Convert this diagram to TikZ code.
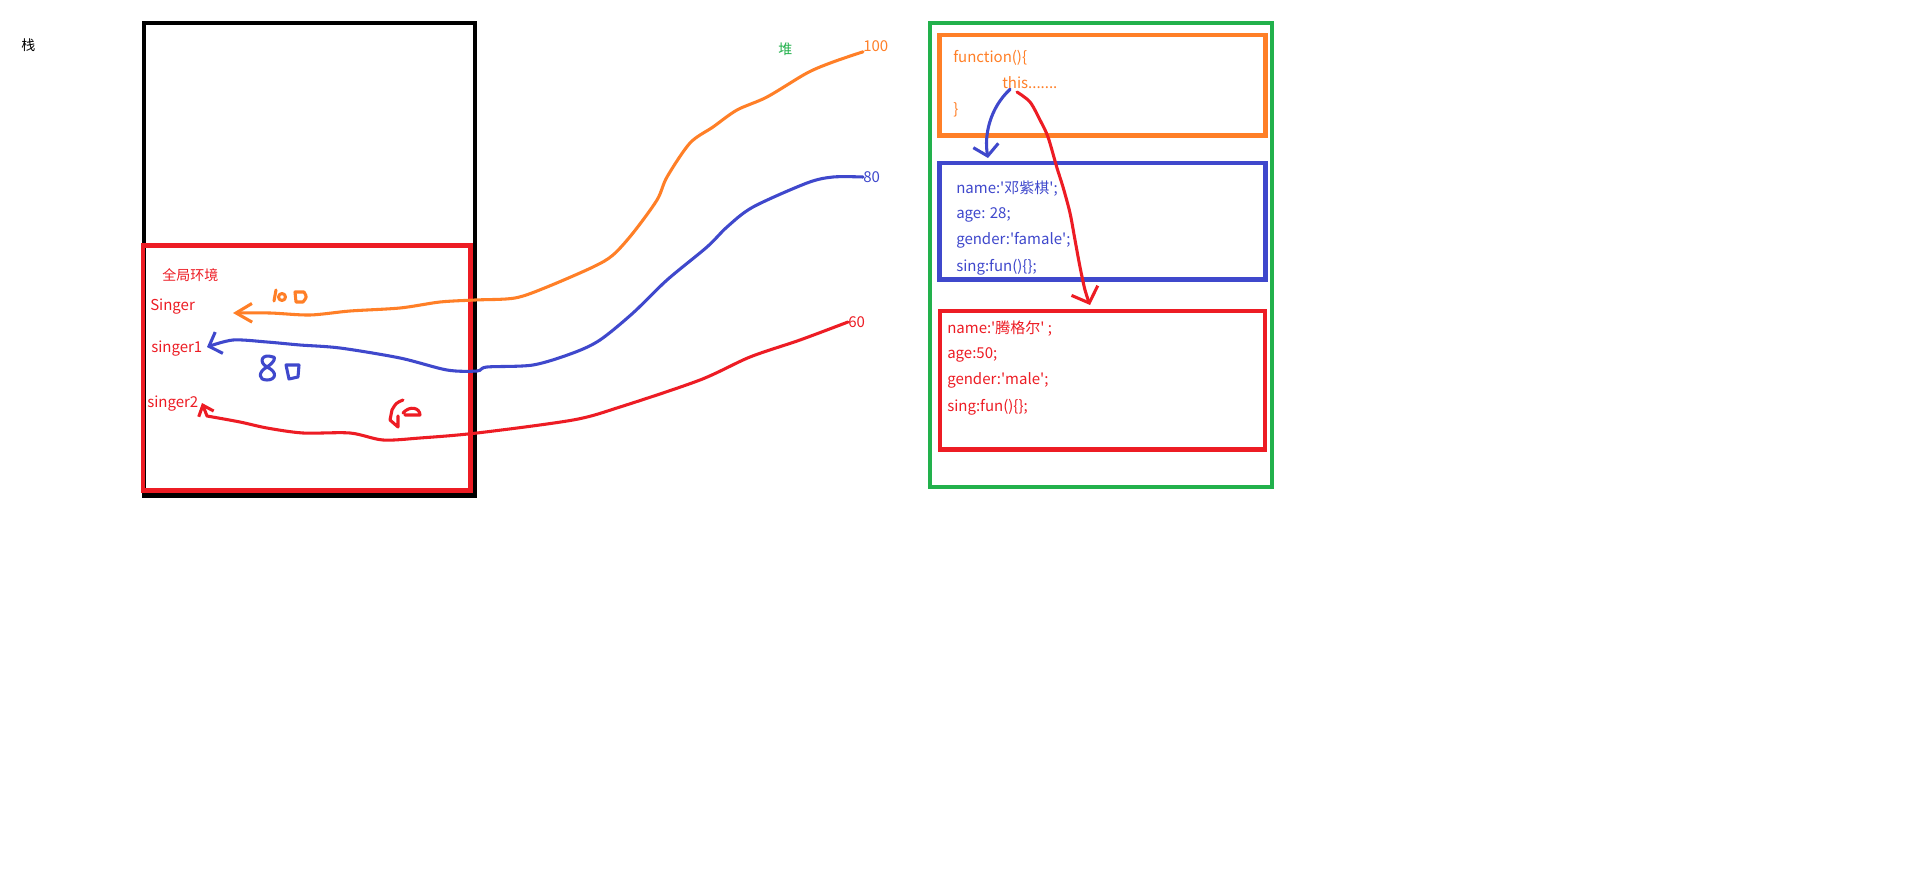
\documentclass[tikz,border=0pt]{standalone}
\usepackage{fontspec}
\newfontfamily\yahei{Noto Sans CJK SC}
\usetikzlibrary{arrows.meta}
\definecolor{pred}{HTML}{ED1C24}
\definecolor{porange}{HTML}{FF7F27}
\definecolor{pblue}{HTML}{3F48CC}
\definecolor{pgreen}{HTML}{22B14C}
\tikzset{
  frame/.style={line width=3.4pt},
  pen/.style={line width=2.3pt, line cap=round, line join=round},
  lbl/.style={anchor=west, inner sep=0pt, font=\yahei\fontsize{11.25pt}{13pt}\selectfont},
  small/.style={lbl, font=\yahei\fontsize{10.5pt}{12pt}\selectfont},
}
\begin{document}
\begin{tikzpicture}[x=0.75pt, y=-0.75pt]
\useasboundingbox[fill=white] (0,0) rectangle (1913,895);
  % stack
  \draw[frame, black] (144,23) rectangle (475,495.5);
  \draw[frame, pred] (143,245.5) rectangle (470.5,490.5);
  \node[small] (zhan) at (21,45) {栈};
  \node[small, text=pred] (env) at (162,275) {全局环境};
  \node[lbl, text=pred] (singer) at (150,307) {Singer};
  \node[lbl, text=pred] (singer1) at (151,349) {singer1};
  \node[lbl, text=pred] (singer2) at (147,404) {singer2};
  % heap
  \node[small, text=pgreen] (dui) at (778,49) {堆};
  \draw[frame, pgreen] (930,23) rectangle (1272,487);
  \draw[frame, porange] (939.5,35) rectangle (1265.5,135.5);
  \draw[frame, pblue] (939.5,163) rectangle (1265.5,279.5);
  \draw[frame, pred] (940,311) rectangle (1265,449.5);
  \node[lbl, text=porange] (l100) at (863,46) {100};
  \node[lbl, text=pblue] (l80) at (863,177) {80};
  \node[lbl, text=pred] (l60) at (848,322) {60};
  \node[lbl, text=porange] (func) at (953,58) {function()\{};
  \node[lbl, text=porange] (this) at (1002,83) {this.......};
  \node[lbl, text=porange] (close) at (953,110) {\}};
  \node[lbl, text=pblue] (n1) at (956,189) {name:'邓紫棋';};
  \node[lbl, text=pblue] (a1) at (956,215) {age: 28;};
  \node[lbl, text=pblue] (g1) at (956,240) {gender:'famale';};
  \node[lbl, text=pblue] (s1) at (956,267) {sing:fun()\{\};};
  \node[lbl, text=pred] (n2) at (947,329) {name:'腾格尔' ;};
  \node[lbl, text=pred] (a2) at (947,355) {age:50;};
  \node[lbl, text=pred] (g2) at (947,380) {gender:'male';};
  \node[lbl, text=pred] (s2) at (947,407) {sing:fun()\{\};};
  % arrow ends
  \coordinate (tipS) at (233,313);
  \coordinate (tipS1) at (207,347);
  \coordinate (tipS2) at (202,403);
  \coordinate (tipObj1) at (988,158);
  \coordinate (tipObj2) at (1090,305);
  % references from the stack into the heap
  \draw[pen, porange, -{Straight Barb[length=12pt,width=14pt]}]
    plot[smooth] coordinates {(l100.south west) (833,62) (807,73) (767,97) (737,110)
      (713,127) (690,143) (667,177) (657,200) (633,233) (613,255) (593,267)
      (547,287) (515,298) (475,300) (440,302) (400,308) (350,311) (310,315)
      (270,313) (tipS)};
  \draw[pen, pblue, -{Straight Barb[length=8pt,width=17pt]}]
    plot[smooth] coordinates {(l80.west) (833,177) (807,183) (753,207) (727,227)
      (707,247) (667,280) (633,313) (600,340) (573,353) (533,365) (487,367)
      (477,371) (447,370) (400,358) (340,348) (300,345) (267,342) (233,340)
      (tipS1)};
  \draw[pen, pred, -{Straight Barb[length=7pt,width=12pt]}]
    plot[smooth] coordinates {(l60.west) (800,340) (750,357) (700,380) (620,407)
      (573,420) (477,433) (420,438) (383,440) (350,433) (303,433) (267,428)
      (240,422) (207,416)} -- (tipS2);
  % this -> objects
  \draw[pen, pblue, -{Straight Barb[length=8pt,width=19pt]}]
    (this.south west) ++(8,0) .. controls (990,108) and (984,135) .. (tipObj1);
  \draw[pen, pred, -{Straight Barb[length=10pt,width=21pt]}]
    plot[smooth] coordinates {(1017,92) (1030,102) (1040,120) (1048,137) (1057,168)
      (1063,187) (1070,213) (1075,240) (1080,267) (1085,290) (tipObj2)};
  % handwritten numbers
  \draw[pen, porange] (276,290) -- (274,301);
  \draw[pen, porange] (282,297) circle (3.5);
  \draw[pen, porange] (295,292) -- (304,292) .. controls (307,297) .. (303,302) -- (296,302) -- cycle;
  \draw[pen, pblue] (273,357) .. controls (262,353) and (258,362) .. (267,367)
    .. controls (278,372) and (276,380) .. (267,380) .. controls (258,380) and (258,372) .. (267,367)
    .. controls (275,362) and (276,356) .. (273,357);
  \draw[pen, pblue] (286,365) -- (299,365) -- (298,377) -- (289,379) -- cycle;
  \draw[pen, pred] (403,400) .. controls (396,403) .. (392,410) -- (390,420) -- (398,427) -- (398,416);
  \draw[pen, pred] (403,413) .. controls (410,405) and (420,408) .. (420,415) -- (405,415);
\end{tikzpicture}
\end{document}
